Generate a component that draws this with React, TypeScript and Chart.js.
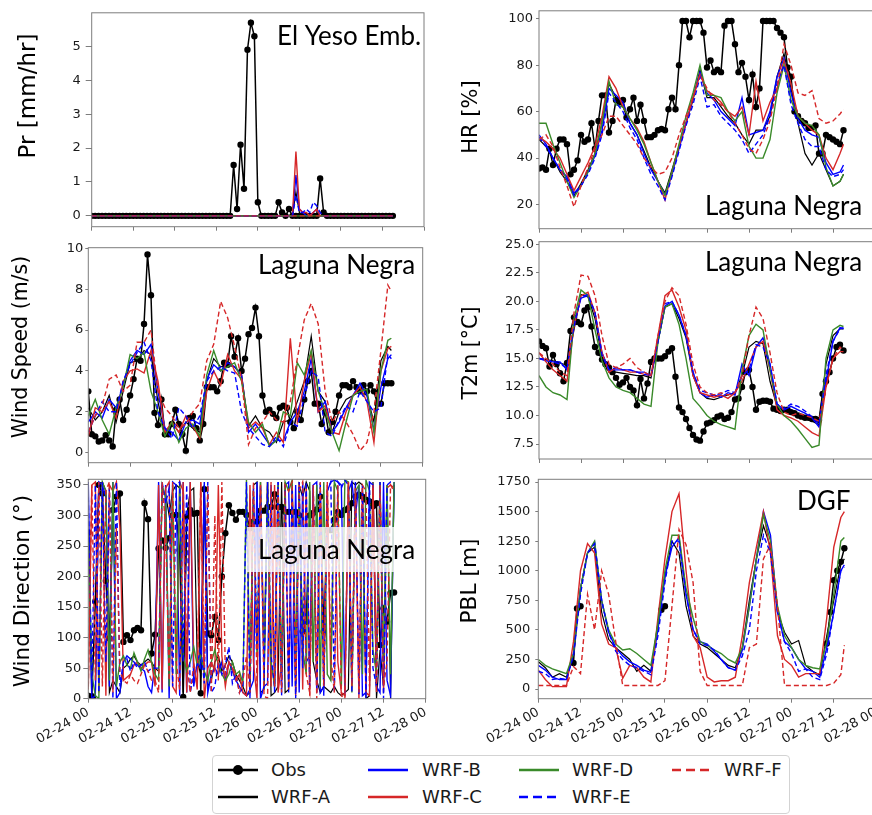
import React, { useEffect, useRef } from "react";
import { Chart, registerables } from "chart.js";
Chart.register(...registerables);

const _ = null;

// ---------- axes / labels ----------
const X_TICK_HOURS = [0, 12, 24, 36, 48, 60, 72, 84, 96];
const X_TICK_LABELS = ["02-24 00", "02-24 12", "02-25 00", "02-25 12", "02-26 00", "02-26 12", "02-27 00", "02-27 12", "02-28 00"];
const SERIES_NAMES = ["Obs", "WRF-A", "WRF-B", "WRF-C", "WRF-D", "WRF-E", "WRF-F"];

const OBS_HOURS: number[] = Array.from({ length: 88 }, (_v, i) => i);
const MODEL_HOURS = [0, 2, 4, 6, 8, 10, 12, 14, 16, 18, 20, 22, 24, 26, 28, 30, 32, 34, 36, 38, 40, 42, 44, 46, 48, 50, 52, 54, 56, 58, 60, 62, 64, 66, 68, 70, 72, 74, 76, 78, 80, 82, 84, 86, 87];

const PR_TICKS = [0, 1, 2, 3, 4, 5];
const HR_TICKS = [20, 40, 60, 80, 100];
const WS_TICKS = [0, 2, 4, 6, 8, 10];
const T2M_TICKS = [7.5, 10, 12.5, 15, 17.5, 20, 22.5, 25];
const WD_TICKS = [0, 50, 100, 150, 200, 250, 300, 350];
const PBL_TICKS = [0, 250, 500, 750, 1000, 1250, 1500, 1750];

// ---------- Precipitation (hourly) ----------
const PR_OBS = [
  0, 0, 0, 0, 0, 0, 0, 0, 0, 0,
  0, 0, 0, 0, 0, 0, 0, 0, 0, 0,
  0, 0, 0, 0, 0, 0, 0, 0, 0, 0,
  0, 0, 0, 0, 0, 0, 0, 0, 0, 0,
  0, 1.5, 0.2, 2.1, 0.8, 4.9, 5.7, 5.3, 0.4, 0,
  0, 0, 0, 0, 0.4, 0.1, 0, 0.2, 0, 0,
  0, 0, 0, 0, 0, 0, 1.1, 0.1, 0, 0,
  0, 0, 0, 0, 0, 0, 0, 0, 0, 0,
  0, 0, 0, 0, 0, 0, 0, 0];
const PR_A = [
  0, 0, 0, 0, 0, 0, 0, 0, 0, 0, 0, 0, 0, 0, 0, 0, 0, 0, 0, 0,
  0, 0, 0, 0, 0, 0, 0, 0, 0, 0, 0, 0, 0, 0, 0, 0, 0, 0, 0, 0,
  0, 0, 0, 0, 0, 0, 0, 0, 0, 0, 0, 0, 0, 0, 0, 0, 0, 0, 0, 0.7,
  0.1, 0, 0, 0, 0, 0, 0, 0, 0, 0, 0, 0, 0, 0, 0, 0, 0, 0, 0, 0,
  0, 0, 0, 0, 0, 0, 0, 0];
const PR_B = [
  0, 0, 0, 0, 0, 0, 0, 0, 0, 0, 0, 0, 0, 0, 0, 0, 0, 0, 0, 0,
  0, 0, 0, 0, 0, 0, 0, 0, 0, 0, 0, 0, 0, 0, 0, 0, 0, 0, 0, 0,
  0, 0, 0, 0, 0, 0, 0, 0, 0, 0, 0, 0, 0, 0, 0, 0, 0, 0, 0, 1.2,
  0.2, 0.1, 0, 0, 0.1, 0.2, 0, 0, 0, 0, 0, 0, 0, 0, 0, 0, 0, 0, 0, 0,
  0, 0, 0, 0, 0, 0, 0, 0];
const PR_C = [
  0, 0, 0, 0, 0, 0, 0, 0, 0, 0, 0, 0, 0, 0, 0, 0, 0, 0, 0, 0,
  0, 0, 0, 0, 0, 0, 0, 0, 0, 0, 0, 0, 0, 0, 0, 0, 0, 0, 0, 0,
  0, 0, 0, 0, 0, 0, 0, 0, 0, 0, 0, 0, 0, 0, 0, 0, 0, 0, 0, 1.9,
  0.2, 0.1, 0.1, 0, 0.1, 0.2, 0, 0, 0, 0, 0, 0, 0, 0, 0, 0, 0, 0, 0, 0,
  0, 0, 0, 0, 0, 0, 0, 0];
const PR_D = [
  0, 0, 0, 0, 0, 0, 0, 0, 0, 0, 0, 0, 0, 0, 0, 0, 0, 0, 0, 0,
  0, 0, 0, 0, 0, 0, 0, 0, 0, 0, 0, 0, 0, 0, 0, 0, 0, 0, 0, 0,
  0, 0, 0, 0, 0, 0, 0, 0, 0, 0, 0, 0, 0, 0, 0, 0, 0, 0, 0, 0,
  0, 0, 0, 0, 0, 0, 0, 0, 0, 0, 0, 0, 0, 0, 0, 0, 0, 0, 0, 0,
  0, 0, 0, 0, 0, 0, 0, 0];
const PR_E = [
  0, 0, 0, 0, 0, 0, 0, 0, 0, 0, 0, 0, 0, 0, 0, 0, 0, 0, 0, 0,
  0, 0, 0, 0, 0, 0, 0, 0, 0, 0, 0, 0, 0, 0, 0, 0, 0, 0, 0, 0,
  0, 0, 0, 0, 0, 0, 0, 0, 0, 0, 0, 0, 0, 0, 0, 0, 0, 0, 0, 0.6,
  0.1, 0.1, 0.2, 0.1, 0.4, 0.3, 0.1, 0, 0, 0, 0, 0, 0, 0, 0, 0, 0, 0, 0, 0,
  0, 0, 0, 0, 0, 0, 0, 0];
const PR_F = [
  0, 0, 0, 0, 0, 0, 0, 0, 0, 0, 0, 0, 0, 0, 0, 0, 0, 0, 0, 0,
  0, 0, 0, 0, 0, 0, 0, 0, 0, 0, 0, 0, 0, 0, 0, 0, 0, 0, 0, 0,
  0, 0, 0, 0, 0, 0, 0, 0, 0, 0, 0, 0, 0, 0, 0, 0, 0, 0, 0, 0,
  0, 0, 0, 0, 0, 0, 0, 0, 0, 0, 0, 0, 0, 0, 0, 0, 0, 0, 0, 0,
  0, 0, 0, 0, 0, 0, 0, 0];

// ---------- Relative humidity ----------
const HR_OBS = [
  35.5, 36, 35, 44, 37, 44, 48, 48, 46, 33,
  35, 39, 50, 47, 48, 55, 44, 56, 67, 67,
  51, 56, 65, 64, 65, 57.5, 61, 66, 56, 63,
  56, 49, 49, 50, 52, 52.5, 52, 61, 66, 61,
  80, 99, 99, 92, 99, 99, 99, 94, 79, 82,
  77, 78, 77, 97, 99, 99, 89, 77, 81, 75,
  65, 76, 62, 70, 99, 99, 99, 99, 96, 94,
  92, 79, 75, 60, 58, 56, 55, 53, 53, 54,
  42, 42, 50, 49, 48, 47, 46, 52];
const HR_A = [48, 45, 40, 34, 30, 24, 29, 35, 42, 55, 72, 66, 62, 55, 50, 43, 36, 30, 25, 35, 45, 55, 65, 78, 66, 66, 62, 58, 55, 50, 46, 52, 52, 58, 75, 85, 70, 55, 42, 37, 42, 35, 28, 30, 33];
const HR_B = [50, 46, 40, 35, 32, 25, 28, 34, 41, 52, 70, 67, 64, 55, 50, 42, 35, 30, 24, 33, 44, 55, 66, 77, 68, 65, 60, 57, 54, 66, 50, 51, 52, 60, 75, 83, 68, 57, 52, 50, 49, 38, 33, 34, 37];
const HR_C = [49, 47, 44, 40, 33, 26, 32, 38, 45, 58, 75, 70, 62, 57, 53, 47, 38, 30, 22, 34, 45, 55, 66, 76, 69, 67, 64, 60, 58, 62, 50, 73, 56, 64, 70, 82, 72, 58, 55, 52, 50, 40, 35, 42, 46];
const HR_D = [55, 55, 46, 38, 30, 23, 28, 34, 42, 55, 73, 63, 62, 57, 52, 46, 38, 30, 24, 34, 46, 58, 68, 80, 67, 67, 66, 60, 56, 60, 45, 40, 40, 48, 68, 80, 65, 58, 55, 54, 50, 36, 28, 30, 33];
const HR_E = [49, 45, 40, 35, 31, 24, 28, 33, 40, 50, 68, 64, 60, 53, 48, 40, 33, 28, 22, 32, 43, 54, 63, 75, 62, 63, 58, 55, 52, 48, 42, 46, 50, 58, 72, 80, 63, 55, 48, 45, 45, 35, 32, 33, 35];
const HR_F = [48, 50, 45, 36, 28, 19, 28, 36, 44, 50, 58, 58, 54, 50, 46, 40, 36, 33, 34, 40, 50, 58, 66, 76, 70, 65, 63, 60, 55, 50, 44, 42, 48, 56, 70, 89, 80, 68, 67, 69, 57, 55, 56, 59, 61];

// ---------- Wind speed ----------
const WS_OBS = [
  3.0, 0.9, 0.8, 0.55, 0.6, 0.85, 0.6, 0.3, 2.1, 2.6,
  1.6, 2.1, 2.8, 3.6, 4.6, 4.5, 6.3, 9.7, 7.7, 1.95,
  1.35, 2.6, 0.9, 0.9, 1.4, 2.1, 1.4, 0.9, 0.1, 1.7,
  1.8, 1.2, 0.6, 1.4, 3.2, 3.2, 3.2, 3.0, 3.5, 4.4,
  4.3, 5.7, 4.7, 5.6, 4.0, 4.6, 5.8, 6.1, 7.1, 5.7,
  2.8, 2.0, 2.1, 1.9, 1.7, 2.2, 2.3, 2.2, 1.5, 1.2,
  2.0, 1.6, 2.6, 3.5, 4.0, 2.4, 2.4, 1.4, 2.0, 1.0,
  1.5, 2.0, 2.8, 3.3, 3.3, 3.2, 3.5, 3.2, 3.0, 3.3,
  3.0, 3.3, 3.0, 2.4, 2.4, 3.4, 3.4, 3.4];
const WS_A = [2.2, 1.6, 2.0, 2.8, 1.5, 3.0, 4.4, 4.5, 5.0, 4.8, 2.5, 0.8, 1.5, 1.0, 1.5, 1.2, 1.0, 3.5, 4.6, 4.2, 4.3, 4.2, 3.8, 1.3, 1.8, 1.2, 1.0, 0.5, 1.5, 1.6, 2.5, 3.5, 5.7, 3.0, 2.5, 1.0, 2.0, 2.6, 2.8, 3.0, 2.8, 1.5, 4.5, 5.2, 5.0];
const WS_B = [1.5, 2.0, 1.7, 2.6, 2.2, 3.3, 4.5, 5.0, 4.8, 5.3, 3.0, 1.2, 1.0, 0.6, 1.5, 1.6, 1.4, 3.6, 4.3, 4.0, 4.4, 4.2, 3.8, 1.0, 1.4, 0.9, 0.4, 0.6, 0.6, 1.5, 2.0, 3.0, 4.6, 2.0, 2.5, 1.0, 1.5, 2.2, 2.8, 3.4, 2.8, 1.1, 3.2, 4.6, 4.8];
const WS_C = [0.8, 2.2, 2.0, 2.5, 1.7, 3.5, 4.0, 4.1, 3.9, 5.0, 3.5, 1.0, 1.5, 1.0, 1.8, 1.3, 0.7, 3.0, 4.0, 3.3, 4.8, 4.0, 3.6, 1.2, 1.5, 1.2, 0.4, 1.0, 0.5, 5.6, 1.5, 3.5, 4.9, 2.0, 2.3, 1.0, 0.9, 2.0, 2.8, 3.2, 2.5, 0.5, 4.0, 5.1, 5.2];
const WS_D = [1.8, 2.6, 1.6, 0.9, 2.2, 3.2, 4.8, 4.6, 4.9, 3.0, 2.0, 0.8, 1.5, 0.5, 1.2, 1.4, 0.8, 3.8, 5.0, 4.0, 4.2, 4.4, 3.5, 1.5, 1.0, 1.4, 0.3, 0.6, 2.0, 1.8, 4.4, 3.8, 5.0, 3.0, 2.0, 1.0, 0.1, 1.5, 2.8, 3.0, 3.1, 1.0, 4.0, 5.5, 5.6];
const WS_E = [1.0, 1.8, 2.5, 2.0, 2.0, 3.5, 4.3, 4.9, 5.4, 4.5, 2.0, 1.2, 0.7, 2.2, 1.8, 1.2, 1.8, 3.5, 4.0, 4.2, 4.0, 3.9, 2.0, 1.2, 0.8, 0.4, 0.3, 0.8, 0.3, 1.5, 1.3, 2.7, 4.0, 3.7, 1.0, 0.8, 1.6, 2.3, 2.0, 3.0, 2.5, 2.0, 2.2, 4.8, 4.6];
const WS_F = [1.0, 1.8, 2.3, 3.6, 3.8, 3.0, 3.3, 5.4, 5.4, 6.0, 3.0, 2.2, 1.8, 1.2, 1.4, 2.0, 2.4, 4.5, 5.3, 7.4, 6.6, 5.2, 3.6, 0.4, 1.2, 1.5, 2.0, 1.6, 1.5, 2.5, 4.6, 6.5, 7.3, 6.3, 3.0, 1.5, 2.0, 1.5, 0.9, 0.1, 0.5, 2.0, 5.0, 8.2, 7.9];

// ---------- 2 m temperature ----------
const T2M_OBS = [
  16.5, 16.1, 15.9, 14.3, 15.3, 14.5, 13.7, 13.0, 14.6, 17.4,
  18.6, 18.2, 18.0, 19.2, 19.5, 17.8, 16.0, 15.5, 14.9, 14.5,
  14.2, 13.8, 13.3, 12.7, 12.9, 13.3, 12.5, 12.2, 10.9, 13.2,
  11.5, 12.8, 14.7, 15.0, 15.0, 15.0, 15.2, 15.6, 15.9, 13.4,
  10.7, 10.3, 9.7, 8.9, 8.3, 7.9, 7.8, 8.6, 9.3, 9.4,
  9.6, 9.9, 10.0, 9.7, 9.8, 10.3, 11.4, 11.5, 12.5, 13.8,
  14.0, 12.5, 10.5, 11.2, 11.3, 11.3, 11.2, 10.6, 10.5, 10.4,
  10.5, 10.5, 10.3, 10.2, 10.0, 9.9, 9.8, 9.8, 9.7, 9.7,
  9.6, 11.9, 13.0, 13.8, 15.0, 16.0, 16.2, 15.7];
const T2M_A = [15.0, 14.9, 14.8, 14.6, 14.4, 17.5, 20.6, 20.4, 18.5, 15.0, 13.8, 13.8, 13.7, 13.6, 13.5, 13.5, 13.3, 16.5, 19.5, 19.8, 18.5, 16.8, 13.5, 12.0, 11.5, 11.4, 11.6, 11.8, 12.0, 13.5, 16.0, 16.5, 16.3, 13.0, 10.8, 10.3, 10.3, 10.0, 9.8, 9.5, 9.2, 14.5, 17.0, 17.6, 17.6];
const T2M_B = [15.0, 14.8, 14.7, 14.7, 14.0, 18.0, 20.3, 20.5, 19.0, 15.5, 14.0, 14.0, 14.0, 14.0, 13.8, 13.8, 13.5, 16.5, 19.6, 20.0, 18.8, 17.0, 13.8, 12.0, 11.6, 11.8, 11.6, 12.0, 11.8, 14.5, 13.5, 16.0, 16.8, 14.5, 11.0, 10.5, 10.8, 10.5, 10.2, 9.8, 9.0, 13.0, 16.5, 17.7, 17.6];
const T2M_C = [15.5, 14.7, 14.0, 13.5, 13.0, 17.8, 20.5, 20.8, 19.0, 15.5, 13.8, 14.2, 14.0, 13.8, 13.8, 13.6, 13.5, 17.0, 20.5, 21.0, 19.5, 17.5, 13.5, 12.0, 11.8, 11.6, 11.8, 11.5, 12.0, 13.0, 14.5, 16.0, 16.5, 14.0, 10.5, 10.0, 9.8, 9.5, 9.0, 8.5, 8.2, 12.5, 15.0, 15.6, 15.6];
const T2M_D = [13.5, 12.5, 12.0, 11.8, 11.4, 18.5, 21.0, 20.5, 17.5, 14.8, 13.3, 12.5, 12.2, 12.0, 11.5, 11.0, 10.8, 16.5, 19.5, 19.8, 18.0, 15.0, 11.5, 10.8, 10.0, 9.5, 9.2, 9.0, 8.8, 14.0, 17.0, 18.0, 17.5, 14.0, 11.0, 10.0, 9.5, 8.8, 8.0, 7.2, 7.4, 15.0, 17.5, 17.9, 17.8];
const T2M_E = [15.0, 14.9, 14.7, 14.5, 14.2, 17.8, 20.4, 20.6, 19.0, 15.3, 14.0, 14.2, 14.0, 14.0, 13.8, 13.6, 13.5, 16.5, 19.8, 20.0, 18.8, 17.0, 13.8, 12.2, 12.0, 11.8, 11.9, 12.2, 12.0, 13.5, 14.0, 16.2, 16.0, 14.5, 11.0, 10.6, 11.0, 10.8, 10.4, 9.9, 9.3, 13.5, 16.5, 17.6, 17.7];
const T2M_F = [15.5, 15.0, 14.5, 13.8, 13.5, 19.0, 22.3, 22.2, 20.5, 17.0, 14.5, 14.2, 14.5, 15.0, 14.2, 13.8, 13.5, 17.0, 20.0, 21.2, 20.5, 18.0, 14.5, 12.5, 12.0, 11.8, 12.0, 11.8, 12.0, 13.5, 17.0, 19.5, 18.5, 15.5, 12.0, 10.3, 10.0, 10.2, 10.0, 9.8, 9.5, 12.5, 15.0, 16.0, 15.7];

// ---------- Wind direction (hourly) ----------
const WD_OBS = [
  272, 4, 159, 350, 336, 193, 99, 309, 331, 336,
  93, 104, 96, 112, 116, 112, 320, 294, 74, 105,
  246, 259, 247, 263, 300, 301, 243, 3, 298, 309,
  303, 304, 9, 343, 107, 104, 134, 96, 200, 271,
  317, 304, 293, 306, 306, 301, 279, 290, 290, 308,
  308, 314, 314, 335, 314, 314, 306, 306, 306, 306,
  300, 110, 126, 300, 304, 310, 331, 110, 276, 276,
  293, 306, 301, 309, 312, 320, 331, 334, 331, 326,
  323, 315, 320, 88, 148, 126, 173, 174];
const WD_A = [
  10, 5, 0, 350, 355, 340, 10, 30, 20, 10,
  50, 55, 65, 70, 60, 55, 60, 65, 60, 50,
  45, 340, 335, 300, 340, 350, 345, 10, 300, 340,
  345, 60, 40, 350, 20, 30, 60, 70, 45, 55,
  70, 60, 40, 30, 20, 5, 10, 350, 355, 10,
  15, 355, 5, 10, 20, 355, 10, 15, 350, 10,
  350, 330, 355, 340, 60, 30, 10, 20, 15, 10,
  20, 10, 5, 10, 15, 355, 350, 355, 350, 0,
  5, 355, 0, 80, 20, 350, 0, 350];
const WD_B = [
  355, 0, 5, 355, 350, 330, 20, 355, 0, 10,
  60, 70, 65, 60, 55, 50, 45, 20, 10, 60,
  355, 10, 350, 0, 355, 350, 5, 355, 10, 355,
  20, 60, 50, 355, 10, 40, 50, 40, 60, 30,
  60, 45, 30, 20, 10, 5, 15, 30, 355, 0,
  20, 25, 350, 10, 355, 15, 350, 355, 20, 350,
  10, 355, 60, 70, 350, 355, 10, 20, 340, 355,
  358, 355, 350, 5, 340, 355, 300, 350, 5, 10,
  355, 350, 20, 10, 355, 30, 5, 355];
const WD_C = [
  15, 350, 355, 10, 355, 5, 350, 340, 355, 280,
  30, 35, 40, 55, 60, 50, 55, 60, 60, 20,
  350, 15, 345, 355, 20, 10, 355, 340, 10, 355,
  60, 15, 355, 0, 50, 60, 45, 350, 70, 20,
  60, 50, 30, 40, 10, 5, 350, 60, 0, 355,
  60, 355, 20, 350, 10, 60, 355, 15, 345, 5,
  355, 15, 350, 5, 345, 10, 340, 20, 355, 30,
  350, 60, 10, 5, 355, 20, 350, 0, 345, 10,
  5, 350, 60, 355, 10, 345, 350, 345];
const WD_D = [
  270, 40, 5, 0, 355, 340, 30, 355, 20, 60,
  70, 55, 50, 75, 60, 45, 65, 80, 60, 40,
  30, 350, 330, 20, 350, 40, 355, 70, 45, 60,
  85, 55, 70, 45, 30, 60, 80, 55, 40, 30,
  40, 60, 40, 45, 25, 358, 30, 340, 70, 355,
  50, 355, 60, 20, 350, 40, 355, 340, 358, 70,
  340, 80, 40, 355, 60, 350, 20, 355, 40, 30,
  355, 340, 20, 358, 355, 10, 340, 350, 40, 358,
  340, 80, 40, 355, 60, 350, 40, 355];
const WD_E = [
  330, 20, 350, 10, 355, 60, 345, 0, 355, 20,
  60, 65, 45, 60, 50, 55, 60, 45, 50, 50,
  50, 355, 320, 345, 20, 350, 355, 60, 350, 10,
  40, 55, 85, 25, 355, 10, 20, 60, 40, 55,
  85, 25, 40, 10, 20, 355, 0, 345, 80, 350,
  30, 355, 70, 20, 355, 5, 350, 10, 345, 0,
  355, 50, 355, 20, 350, 10, 355, 5, 340, 355,
  10, 355, 345, 358, 350, 10, 355, 5, 350, 0,
  355, 50, 20, 355, 0, 350, 355, 355];
const WD_F = [
  20, 350, 30, 355, 20, 340, 355, 10, 280, 45,
  30, 25, 40, 30, 25, 40, 55, 45, 30, 30,
  10, 355, 280, 30, 355, 60, 15, 355, 60, 10,
  55, 20, 355, 50, 350, 10, 300, 30, 355, 40,
  60, 50, 40, 10, 30, 70, 10, 355, 20, 350,
  5, 0, 355, 20, 345, 10, 350, 340, 355, 30,
  340, 355, 40, 10, 350, 0, 355, 20, 350, 70,
  10, 350, 5, 0, 355, 20, 345, 10, 350, 340,
  20, 345, 10, 350, 20, 60, 350, 340];

// ---------- Boundary layer height ----------
const PBL_OBS = [
  _, _, _, _, _, _, _, _, _, _,
  220, 680, 700, _, _, _, _, _, _, _,
  _, _, _, _, _, _, _, _, _, _,
  _, _, _, _, _, 670, 700, _, _, _,
  _, _, _, _, _, _, _, _, _, _,
  _, _, _, _, _, _, _, _, _, _,
  _, _, _, _, _, _, _, _, _, _,
  _, _, _, _, _, _, _, _, _, _,
  _, _, 385, 650, 920, 1000, 1075, 1190];
const PBL_A = [230, 180, 100, 130, 100, 280, 850, 1150, 1200, 650, 420, 350, 300, 250, 150, 200, 150, 550, 950, 1250, 1150, 700, 450, 380, 350, 300, 250, 200, 180, 350, 750, 1100, 1380, 1200, 650, 480, 380, 410, 200, 150, 120, 450, 750, 1050, 1100];
const PBL_B = [200, 160, 100, 80, 80, 300, 850, 1150, 1240, 750, 480, 350, 280, 230, 200, 160, 140, 500, 950, 1200, 1280, 800, 500, 400, 380, 320, 250, 180, 160, 330, 700, 1100, 1500, 1300, 650, 400, 350, 250, 170, 150, 100, 350, 650, 1000, 1050];
const PBL_C = [160, 80, 20, 20, 20, 400, 1000, 1230, 1150, 550, 380, 350, 90, 200, 180, 100, 60, 600, 1100, 1500, 1650, 1000, 450, 350, 100, 60, 70, 70, 100, 450, 900, 1200, 1500, 1150, 450, 250, 200, 100, 130, 130, 130, 600, 1200, 1450, 1500];
const PBL_D = [250, 200, 170, 150, 130, 300, 850, 1150, 1250, 750, 500, 380, 330, 340, 300, 250, 200, 550, 1000, 1300, 1300, 850, 600, 400, 370, 330, 300, 250, 220, 350, 700, 1100, 1470, 1250, 700, 450, 350, 250, 200, 180, 170, 400, 800, 1250, 1280];
const PBL_E = [150, 130, 80, 90, 80, 280, 800, 1150, 1230, 750, 480, 320, 250, 200, 180, 150, 120, 450, 900, 1250, 1250, 800, 500, 380, 370, 330, 250, 180, 160, 280, 500, 1000, 1300, 1150, 650, 400, 300, 150, 170, 100, 80, 300, 650, 1000, 1030];
const PBL_F = [30, 30, 30, 30, 30, 190, 130, 800, 500, 1000, 800, 400, 30, 30, 30, 30, 30, 30, 70, 700, 1350, 1220, 900, 150, 30, 30, 30, 30, 30, 30, 350, 380, 1100, 1220, 700, 30, 30, 30, 30, 30, 30, 30, 50, 120, 370];

// ---------- styles ----------
const SPINE = "#7d7d7d";
const TICK_TEXT = "#1a1a1a";
const TICK_FONT = "'DejaVu Sans', sans-serif";
const LABEL_FONT = "Lato, 'Open Sans', sans-serif";

const MODEL_STYLES = [
  { color: "#000000", width: 1.2, dash: [] as number[] },
  { color: "#0000ff", width: 1.4, dash: [] as number[] },
  { color: "#d62728", width: 1.4, dash: [] as number[] },
  { color: "#3a8a2a", width: 1.4, dash: [] as number[] },
  { color: "#0000ff", width: 1.4, dash: [5, 3] },
  { color: "#d62728", width: 1.4, dash: [5, 3] },
];

type Panel = {
  id: string;
  canvas: number[]; // x, y, w, h (page)
  area: number[]; // l, t, r, b (page)
  yMin: number; yMax: number; yTicks: number[]; yDec: number;
  yTitle: string; yTitleX: number; yTitleY: number; yTitleSize: number;
  tickLen: number; tickPad: number;
  label: string; labelX: number; labelY: number; labelBox?: number[];
  xLabels: boolean;
  obs: (number | null)[]; models: number[][]; modelHours: number[];
};

const PANELS: Panel[] = [
  {
    id: "pr", canvas: [0, 0, 445, 240], area: [91.7, 9.3, 424, 226.7],
    yMin: -0.32, yMax: 5.99, yTicks: PR_TICKS, yDec: 0,
    yTitle: "Pr [mm/hr]", yTitleX: 29, yTitleY: 96, yTitleSize: 23,
    tickLen: 6, tickPad: 5, label: "El Yeso Emb.", labelX: 277, labelY: 45,
    xLabels: false, obs: PR_OBS, models: [PR_A, PR_B, PR_C, PR_D, PR_E, PR_F], modelHours: OBS_HOURS,
  },
  {
    id: "hr", canvas: [430, 0, 470, 240], area: [539, 9.3, 875, 228.7],
    yMin: 9.6, yMax: 103.4, yTicks: HR_TICKS, yDec: 0,
    yTitle: "HR [%]", yTitleX: 472, yTitleY: 117, yTitleSize: 21,
    tickLen: 3, tickPad: 3, label: "Laguna Negra", labelX: 705, labelY: 215,
    xLabels: false, obs: HR_OBS, models: [HR_A, HR_B, HR_C, HR_D, HR_E, HR_F], modelHours: MODEL_HOURS,
  },
  {
    id: "ws", canvas: [0, 228, 445, 247], area: [88.3, 247.7, 422.7, 462.7],
    yMin: -0.49, yMax: 10.03, yTicks: WS_TICKS, yDec: 0,
    yTitle: "Wind Speed (m/s)", yTitleX: 22, yTitleY: 347, yTitleSize: 20.5,
    tickLen: 3, tickPad: 2, label: "Laguna Negra", labelX: 258, labelY: 274,
    xLabels: false, obs: WS_OBS, models: [WS_A, WS_B, WS_C, WS_D, WS_E, WS_F], modelHours: MODEL_HOURS,
  },
  {
    id: "t2m", canvas: [430, 228, 470, 247], area: [539, 241.7, 875, 459],
    yMin: 6.19, yMax: 25.23, yTicks: T2M_TICKS, yDec: 1,
    yTitle: "T2m [°C]", yTitleX: 472, yTitleY: 353, yTitleSize: 20.6,
    tickLen: 3, tickPad: 2, label: "Laguna Negra", labelX: 705, labelY: 271,
    xLabels: false, obs: T2M_OBS, models: [T2M_A, T2M_B, T2M_C, T2M_D, T2M_E, T2M_F], modelHours: MODEL_HOURS,
  },
  {
    id: "wd", canvas: [0, 462, 445, 353], area: [88.3, 479.3, 425.7, 698.7],
    yMin: 0, yMax: 359.3, yTicks: WD_TICKS, yDec: 0,
    yTitle: "Wind Direction (°)", yTitleX: 23, yTitleY: 591, yTitleSize: 21.5,
    tickLen: 5, tickPad: 2, label: "Laguna Negra", labelX: 258, labelY: 559, labelBox: [247, 527, 426, 572],
    xLabels: true, obs: WD_OBS, models: [WD_A, WD_B, WD_C, WD_D, WD_E, WD_F], modelHours: OBS_HOURS,
  },
  {
    id: "pbl", canvas: [430, 462, 470, 353], area: [538.3, 479.3, 876, 698.7],
    yMin: -82, yMax: 1773, yTicks: PBL_TICKS, yDec: 0,
    yTitle: "PBL [m]", yTitleX: 470, yTitleY: 581, yTitleSize: 21.7,
    tickLen: 3, tickPad: 5, label: "DGF", labelX: 797, labelY: 510,
    xLabels: true, obs: PBL_OBS, models: [PBL_A, PBL_B, PBL_C, PBL_D, PBL_E, PBL_F], modelHours: MODEL_HOURS,
  },
];

function buildConfig(p: Panel): any {
  const [cx, cy, cw, ch] = p.canvas;
  const [l, t, r, b] = p.area;
  const xAxisH = p.xLabels ? 70 : 10;
  const yAxisW = l - cx;

  const datasets: any[] = [];
  datasets.push({
    label: SERIES_NAMES[0],
    data: p.obs.map((v, i) => ({ x: OBS_HOURS[i], y: v })),
    borderColor: "#000000",
    backgroundColor: "#000000",
    borderWidth: 1.5,
    pointRadius: 3.2,
    pointBackgroundColor: "#000000",
    pointBorderColor: "#000000",
    pointBorderWidth: 0,
    spanGaps: false,
    tension: 0,
    order: 6,
  });
  p.models.forEach((vals, k) => {
    const st = MODEL_STYLES[k];
    datasets.push({
      label: SERIES_NAMES[k + 1],
      data: vals.map((v, i) => ({ x: p.modelHours[i], y: v })),
      borderColor: st.color,
      backgroundColor: st.color,
      borderWidth: st.width,
      borderDash: st.dash,
      pointRadius: 0,
      tension: 0,
      order: 5 - k,
    });
  });

  const deco = {
    id: "deco_" + p.id,
    afterDatasetsDraw(chart: any) {
      const ctx = chart.ctx;
      ctx.save();
      if (p.labelBox) {
        const [x0, y0, x1, y1] = p.labelBox;
        ctx.fillStyle = "rgba(255,255,255,0.8)";
        ctx.fillRect(x0 - cx, y0 - cy, x1 - x0, y1 - y0);
      }
      ctx.fillStyle = "#000000";
      ctx.font = `26px ${LABEL_FONT}`;
      ctx.textAlign = "left";
      ctx.textBaseline = "alphabetic";
      ctx.fillText(p.label, p.labelX - cx, p.labelY - cy);
      ctx.restore();
    },
    afterDraw(chart: any) {
      const ctx = chart.ctx;
      const a = chart.chartArea;
      ctx.save();
      ctx.strokeStyle = SPINE;
      ctx.lineWidth = 1;
      ctx.strokeRect(a.left, a.top, a.right - a.left, a.bottom - a.top);
      ctx.translate(p.yTitleX - cx, p.yTitleY - cy);
      ctx.rotate(-Math.PI / 2);
      ctx.fillStyle = "#000000";
      ctx.font = `${p.yTitleSize}px ${TICK_FONT}`;
      ctx.textAlign = "center";
      ctx.textBaseline = "middle";
      ctx.fillText(p.yTitle, 0, 0);
      ctx.restore();
    },
  };

  return {
    type: "line",
    data: { datasets },
    plugins: [deco],
    options: {
      responsive: false,
      maintainAspectRatio: false,
      animation: false,
      devicePixelRatio: 1,
      events: [],
      layout: {
        padding: {
          left: 0,
          top: t - cy,
          right: cx + cw - r,
          bottom: cy + ch - b - xAxisH,
        },
      },
      plugins: { legend: { display: false }, tooltip: { enabled: false }, title: { display: false } },
      scales: {
        x: {
          type: "linear",
          min: 0,
          max: 96,
          afterBuildTicks: (axis: any) => {
            axis.ticks = X_TICK_HOURS.map((v) => ({ value: v }));
          },
          afterFit: (axis: any) => {
            axis.height = xAxisH;
          },
          ticks: {
            display: p.xLabels,
            autoSkip: false,
            minRotation: 30,
            maxRotation: 30,
            padding: 2,
            color: TICK_TEXT,
            font: { family: TICK_FONT, size: 13 },
            callback: (_v: any, i: number) => X_TICK_LABELS[i],
          },
          grid: { drawOnChartArea: false, drawTicks: true, tickLength: 4, color: SPINE, lineWidth: 1 },
          border: { display: false },
        },
        y: {
          type: "linear",
          min: p.yMin,
          max: p.yMax,
          afterBuildTicks: (axis: any) => {
            axis.ticks = p.yTicks.map((v) => ({ value: v }));
          },
          afterFit: (axis: any) => {
            axis.width = yAxisW;
          },
          ticks: {
            autoSkip: false,
            padding: p.tickPad,
            color: TICK_TEXT,
            font: { family: TICK_FONT, size: 13 },
            callback: (v: any) => Number(v).toFixed(p.yDec),
          },
          grid: { drawOnChartArea: false, drawTicks: true, tickLength: p.tickLen, color: SPINE, lineWidth: 1 },
          border: { display: false },
        },
      },
    },
  };
}

// ---------- legend (HTML) ----------
const LEGEND_BOX = { left: 212, top: 755, width: 578, height: 59 };
const LEGEND_COL_LINE_X = [217, 367, 518, 671];
const LEGEND_COL_TEXT_X = [271, 422, 572, 724];
const LEGEND_ROW_Y = [770, 797];
const LEGEND_SLOTS = [[0, 0], [0, 1], [1, 0], [1, 1], [2, 0], [2, 1], [3, 0]];

function Legend() {
  const styles = [{ color: "#000000", dash: [] as number[] }, ...MODEL_STYLES];
  return (
    <div
      style={{
        position: "absolute",
        left: LEGEND_BOX.left,
        top: LEGEND_BOX.top,
        width: LEGEND_BOX.width,
        height: LEGEND_BOX.height,
        border: "1px solid #d3d3d3",
        borderRadius: 4,
        boxSizing: "border-box",
        background: "#ffffff",
      }}
    >
      {SERIES_NAMES.map((name, i) => {
        const [col, row] = LEGEND_SLOTS[i];
        const lx = LEGEND_COL_LINE_X[col] - LEGEND_BOX.left - 1;
        const tx = LEGEND_COL_TEXT_X[col] - LEGEND_BOX.left - 1;
        const y = LEGEND_ROW_Y[row] - LEGEND_BOX.top - 1;
        const st = styles[i];
        return (
          <React.Fragment key={name}>
            <svg
              width={42}
              height={14}
              style={{ position: "absolute", left: lx, top: y - 7 }}
            >
              <line
                x1={1}
                y1={7}
                x2={41}
                y2={7}
                stroke={st.color}
                strokeWidth={2.4}
                strokeDasharray={st.dash.length ? "9 5" : undefined}
              />
              {i === 0 ? <circle cx={21} cy={7} r={5} fill="#000000" /> : null}
            </svg>
            <div
              style={{
                position: "absolute",
                left: tx,
                top: y - 11,
                height: 22,
                lineHeight: "22px",
                fontFamily: "'DejaVu Sans', sans-serif",
                fontSize: 18,
                color: "#1a1a1a",
                whiteSpace: "nowrap",
              }}
            >
              {name}
            </div>
          </React.Fragment>
        );
      })}
    </div>
  );
}

export default function App() {
  const refs = useRef<(HTMLCanvasElement | null)[]>([]);

  useEffect(() => {
    const charts: Chart[] = [];
    PANELS.forEach((p, i) => {
      const el = refs.current[i];
      if (!el) return;
      charts.push(new Chart(el, buildConfig(p)));
    });
    return () => {
      charts.forEach((c) => c.destroy());
    };
  }, []);

  return (
    <div
      style={{
        position: "fixed",
        left: 0,
        top: 0,
        width: 872,
        height: 815,
        overflow: "hidden",
        background: "#ffffff",
      }}
    >
      {PANELS.map((p, i) => (
        <canvas
          key={p.id}
          ref={(el) => {
            refs.current[i] = el;
          }}
          width={p.canvas[2]}
          height={p.canvas[3]}
          style={{
            position: "absolute",
            left: p.canvas[0],
            top: p.canvas[1],
            width: p.canvas[2],
            height: p.canvas[3],
          }}
        />
      ))}
      <Legend />
    </div>
  );
}
